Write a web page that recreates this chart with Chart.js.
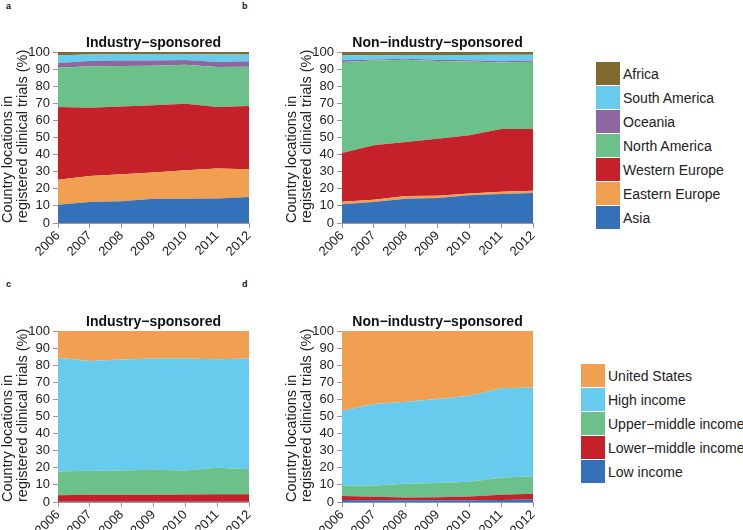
<!DOCTYPE html>
<html>
<head>
<meta charset="utf-8">
<script src="https://cdn.jsdelivr.net/npm/chart.js@4"></script>
<style>
body{margin:0;width:743px;height:530px;overflow:hidden;background:#fff;position:relative;font-family:"Liberation Sans",Arial,sans-serif}
canvas{position:absolute}
.tag{position:absolute;font-weight:bold;font-size:9px;color:#111}
.legend{position:absolute;font-size:14px;color:#222}
.legend div{height:24px;display:flex;align-items:center;white-space:nowrap}
.legend span{display:inline-block;width:24px;height:23px;margin:0 3px 1px 0}
</style>
</head>
<body>
<div class="tag" style="left:6px;top:1px">a</div>
<div class="tag" style="left:242px;top:1px">b</div>
<div class="tag" style="left:6px;top:279px">c</div>
<div class="tag" style="left:242px;top:279px">d</div>
<canvas id="chartA" width="256" height="265" style="left:0;top:0"></canvas>
<canvas id="chartB" width="256" height="265" style="left:284px;top:0"></canvas>
<canvas id="chartC" width="256" height="265" style="left:0;top:279px"></canvas>
<canvas id="chartD" width="256" height="265" style="left:284px;top:279px"></canvas>
<div class="legend" id="legendTop" style="left:596px;top:62px"></div>
<div class="legend" id="legendBottom" style="left:581px;top:364px"></div>
<script>
Chart.defaults.font.family = '"Liberation Sans", Arial, sans-serif';
Chart.defaults.color = "#222";

const years = ["2006", "2007", "2008", "2009", "2010", "2011", "2012"];

const regions = ["Asia", "Eastern Europe", "Western Europe", "North America", "Oceania", "South America", "Africa"];
const regionColors = ["#3571b8", "#f0a050", "#c4212b", "#6cc18a", "#8c67a0", "#66cbec", "#7f6b2f"];

const incomes = ["Low income", "Lower\u2212middle income", "Upper\u2212middle income", "High income", "United States"];
const incomeColors = ["#3571b8", "#c4212b", "#6cc18a", "#66cbec", "#f0a050"];

// one row per region, bottom layer first (% of country locations)
const industryRegion = [
  [10.7, 12.3, 12.7, 14.2, 14.2, 14.3, 15.2],
  [14.6, 15.2, 15.8, 15.4, 16.6, 17.5, 16.2],
  [42.5, 39.9, 39.7, 39.2, 39.0, 36.0, 37.0],
  [23.0, 24.2, 23.6, 23.2, 22.8, 23.4, 23.0],
  [2.8, 3.2, 3.2, 3.0, 2.7, 3.0, 3.2],
  [4.5, 3.8, 3.8, 3.8, 3.5, 4.4, 4.0],
  [1.9, 1.4, 1.2, 1.2, 1.2, 1.4, 1.4],
];
const nonIndustryRegion = [
  [10.9, 12.3, 14.2, 14.6, 16.2, 17.0, 17.5],
  [1.5, 1.3, 1.6, 1.3, 1.0, 1.3, 1.3],
  [28.6, 31.8, 31.6, 33.4, 34.1, 36.7, 36.2],
  [53.2, 49.6, 48.0, 45.5, 43.2, 38.8, 39.3],
  [1.0, 0.6, 0.6, 0.7, 0.7, 0.8, 0.8],
  [3.0, 2.4, 2.2, 2.7, 3.1, 3.8, 3.3],
  [1.8, 2.0, 1.8, 1.8, 1.7, 1.6, 1.6],
];
const industryIncome = [
  [0.2, 0.2, 0.2, 0.2, 0.2, 0.2, 0.2],
  [3.7, 4.1, 4.1, 4.1, 4.2, 4.3, 4.3],
  [14.0, 14.0, 14.1, 14.5, 14.0, 15.5, 14.7],
  [66.4, 64.2, 64.9, 65.1, 65.5, 63.5, 64.7],
  [15.7, 17.5, 16.7, 16.1, 16.1, 16.5, 16.1],
];
const nonIndustryIncome = [
  [1.2, 1.0, 1.0, 1.0, 1.0, 1.2, 1.4],
  [2.3, 2.1, 1.6, 1.8, 2.2, 3.0, 3.4],
  [6.0, 6.6, 8.1, 8.3, 8.6, 10.0, 10.2],
  [43.9, 47.6, 47.9, 49.1, 50.4, 52.3, 52.0],
  [46.6, 42.7, 41.4, 39.8, 37.8, 33.5, 33.0],
];

const panelTitle = {
  id: "panelTitle",
  afterDraw(chart, args, opts) {
    const { ctx, chartArea } = chart;
    ctx.save();
    ctx.font = 'bold 14px "Liberation Sans", Arial, sans-serif';
    ctx.fillStyle = "#111";
    ctx.textAlign = "center";
    ctx.textBaseline = "middle";
    ctx.fillText(opts.text, (chartArea.left + chartArea.right) / 2, chartArea.top - 9);
    ctx.restore();
  },
};

function makeChart(id, title, names, colors, rows) {
  const datasets = rows.map((row, i) => ({
    label: names[i],
    data: row,
    backgroundColor: colors[i],
    borderWidth: 0,
    pointRadius: 0,
    tension: 0,
    fill: i === 0 ? "origin" : "-1",
  }));
  return new Chart(document.getElementById(id), {
    type: "line",
    data: { labels: years, datasets: datasets },
    plugins: [panelTitle],
    options: {
      responsive: false,
      animation: false,
      devicePixelRatio: 1,
      layout: { padding: { top: 52, right: 7, left: 0, bottom: 0 } },
      plugins: {
        legend: { display: false },
        tooltip: { enabled: false },
        panelTitle: { text: title },
      },
      scales: {
        x: {
          offset: false,
          grid: { display: true, drawOnChartArea: false, drawTicks: true, tickLength: 5, color: "#999" },
          border: { display: true, color: "#999" },
          ticks: { autoSkip: false, minRotation: 45, maxRotation: 45, font: { size: 13 }, padding: 0, color: "#222" },
          afterFit: (s) => { s.height = 42; s.paddingLeft = 0; s.paddingRight = 0; },
        },
        y: {
          stacked: true,
          min: 0,
          max: 100,
          grid: { display: true, drawOnChartArea: false, drawTicks: true, tickLength: 5, color: "#999" },
          border: { display: true, color: "#999" },
          ticks: { autoSkip: false, stepSize: 10, font: { size: 13 }, padding: 3, color: "#222" },
          title: {
            display: true,
            align: "start",
            text: ["Country locations in", "registered clinical trials (%)"],
            font: { size: 14.5, lineHeight: 1.08 },
            padding: 0,
            color: "#222",
          },
          afterFit: (s) => { s.width = 58; },
        },
      },
    },
  });
}

makeChart("chartA", "Industry\u2212sponsored", regions, regionColors, industryRegion);
makeChart("chartB", "Non\u2212industry\u2212sponsored", regions, regionColors, nonIndustryRegion);
makeChart("chartC", "Industry\u2212sponsored", incomes, incomeColors, industryIncome);
makeChart("chartD", "Non\u2212industry\u2212sponsored", incomes, incomeColors, nonIndustryIncome);

function buildLegend(id, names, colors) {
  const box = document.getElementById(id);
  for (let i = names.length - 1; i >= 0; i--) {
    const row = document.createElement("div");
    const sw = document.createElement("span");
    sw.style.background = colors[i];
    row.appendChild(sw);
    row.appendChild(document.createTextNode(names[i]));
    box.appendChild(row);
  }
}
buildLegend("legendTop", regions, regionColors);
buildLegend("legendBottom", incomes, incomeColors);
</script>
</body>
</html>
